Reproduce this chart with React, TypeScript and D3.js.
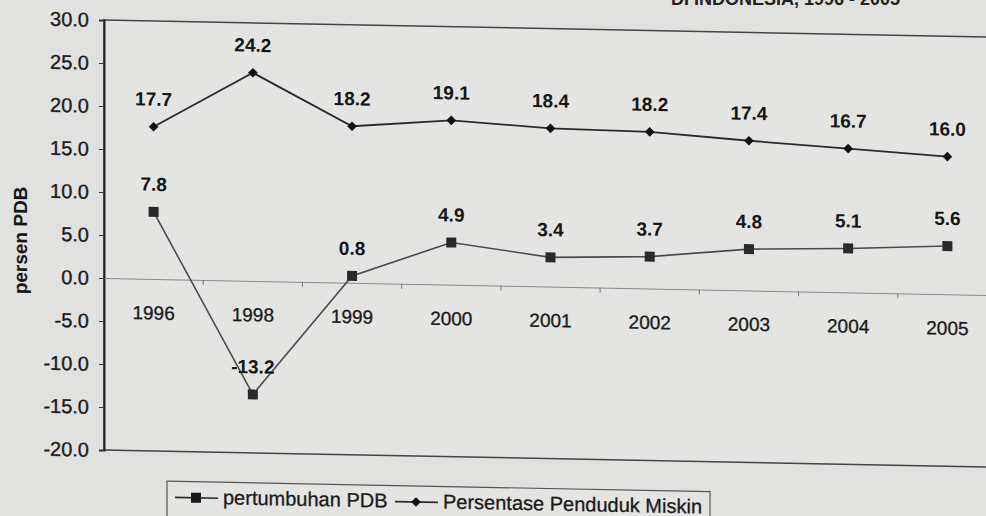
import * as d3 from 'd3';
import React, { useEffect, useRef } from 'react';

const years = ['1996', '1998', '1999', '2000', '2001', '2002', '2003', '2004', '2005'];
const pertumbuhanPDB = [7.8, -13.2, 0.8, 4.9, 3.4, 3.7, 4.8, 5.1, 5.6];
const pendudukMiskin = [17.7, 24.2, 18.2, 19.1, 18.4, 18.2, 17.4, 16.7, 16.0];
const yTicks = [30, 25, 20, 15, 10, 5, 0, -5, -10, -15, -20];
const seriesNames = ['pertumbuhan PDB', 'Persentase Penduduk Miskin'];

function App() {
    const ref = useRef<SVGSVGElement>(null);

    useEffect(() => {
        draw();
    });

    const draw = () => {
        const width = 986;
        const height = 516;
        const left = 104;
        const font = 'Arial, "Liberation Sans", sans-serif';
        const ink = '#1a1a1a';

        const svg = d3.select(ref.current);
        svg.selectAll('*').remove();

        svg.append('rect')
            .attr('width', width)
            .attr('height', height)
            .attr('fill', '#e1e1df');

        // title, mostly cut off at the top of the photo
        svg.append('text')
            .attr('x', 900)
            .attr('y', 5)
            .attr('text-anchor', 'end')
            .attr('font-family', font)
            .attr('font-weight', 'bold')
            .attr('font-size', 18)
            .attr('fill', '#222')
            .text('DI INDONESIA, 1996 - 2005');

        // the page is photographed slightly tilted
        const g = svg.append('g')
            .attr('transform', `translate(${left},0) skewY(1.1) translate(${-left},0)`);

        const x = d3.scaleBand().domain(years).range([left, 997]);
        const cx = (d: string) => (x(d) as number) + x.bandwidth() / 2;
        const y = d3.scaleLinear().domain([-20, 30]).range([450, 20]);
        const fmt = (v: number) => v.toFixed(1);

        // plot frame
        g.append('rect')
            .attr('x', left)
            .attr('y', y(30))
            .attr('width', 997 - left)
            .attr('height', y(-20) - y(30))
            .attr('fill', '#e4e4e2')
            .attr('stroke', '#444')
            .attr('stroke-width', 1.5);

        // y axis
        const yAxis = d3.axisLeft(y)
            .tickValues(yTicks)
            .tickSize(5)
            .tickPadding(10)
            .tickFormat((d) => fmt(+d));
        const ya = g.append('g')
            .attr('transform', `translate(${left},0)`)
            .call(yAxis);
        ya.select('.domain').attr('stroke', '#222').attr('stroke-width', 2);
        ya.selectAll('line').attr('stroke', '#333');
        ya.selectAll('text')
            .attr('font-family', font)
            .attr('font-size', 20)
            .attr('fill', ink)
            .attr('stroke', ink)
            .attr('stroke-width', 0.35);

        // zero line with category ticks and labels
        const xAxis = d3.axisBottom(x).tickSize(0).tickPadding(27);
        const xa = g.append('g')
            .attr('transform', `translate(0,${y(0)})`)
            .call(xAxis);
        xa.select('.domain').attr('stroke', '#8a8a8a').attr('stroke-width', 1);
        xa.selectAll('text')
            .attr('font-family', font)
            .attr('font-size', 19)
            .attr('fill', ink)
            .attr('stroke', ink)
            .attr('stroke-width', 0.3);
        xa.selectAll('line.bound')
            .data(years.slice(1))
            .enter()
            .append('line')
            .attr('class', 'bound')
            .attr('x1', (d) => x(d) as number)
            .attr('x2', (d) => x(d) as number)
            .attr('y1', 0)
            .attr('y2', 5)
            .attr('stroke', '#777');

        const line = d3.line<number>()
            .x((d, i) => cx(years[i]))
            .y((d) => y(d));

        // GDP growth
        g.append('path')
            .datum(pertumbuhanPDB)
            .attr('d', line)
            .attr('fill', 'none')
            .attr('stroke', '#4a4a4a')
            .attr('stroke-width', 1.6);
        g.selectAll('rect.pdb')
            .data(pertumbuhanPDB)
            .enter()
            .append('rect')
            .attr('class', 'pdb')
            .attr('x', (d, i) => cx(years[i]) - 5)
            .attr('y', (d) => y(d) - 5)
            .attr('width', 10)
            .attr('height', 10)
            .attr('fill', '#2a2a2a');

        // poverty
        g.append('path')
            .datum(pendudukMiskin)
            .attr('d', line)
            .attr('fill', 'none')
            .attr('stroke', '#2a2a2a')
            .attr('stroke-width', 1.8);
        g.selectAll('path.miskin')
            .data(pendudukMiskin)
            .enter()
            .append('path')
            .attr('class', 'miskin')
            .attr('d', d3.symbol(d3.symbolDiamond2, 60))
            .attr('transform', (d, i) => `translate(${cx(years[i])},${y(d)})`)
            .attr('fill', '#111');

        // value labels
        const labels = [pertumbuhanPDB, pendudukMiskin];
        labels.forEach((vals, k) => {
            g.selectAll(`text.v${k}`)
                .data(vals)
                .enter()
                .append('text')
                .attr('class', `v${k}`)
                .attr('x', (d, i) => cx(years[i]))
                .attr('y', (d) => y(d) - 21)
                .attr('text-anchor', 'middle')
                .attr('font-family', font)
                .attr('font-weight', 'bold')
                .attr('font-size', 19)
                .attr('fill', '#151515')
                .text((d) => fmt(d));
        });

        // y label
        g.append('text')
            .attr('transform', 'translate(27,242) rotate(-90)')
            .attr('text-anchor', 'middle')
            .attr('font-family', font)
            .attr('font-weight', 'bold')
            .attr('font-size', 19)
            .attr('fill', '#151515')
            .text('persen PDB');

        // legend
        const lg = g.append('g');
        lg.append('rect')
            .attr('x', 167)
            .attr('y', 480)
            .attr('width', 543)
            .attr('height', 60)
            .attr('fill', '#e4e4e2')
            .attr('stroke', '#555')
            .attr('stroke-width', 1.2);
        const items = [
            { x0: 175, tx: 223 },
            { x0: 395, tx: 443 },
        ];
        items.forEach((it, k) => {
            lg.append('line')
                .attr('x1', it.x0)
                .attr('x2', it.x0 + 43)
                .attr('y1', 496)
                .attr('y2', 496)
                .attr('stroke', '#2a2a2a')
                .attr('stroke-width', 1.6);
            if (k === 0) {
                lg.append('rect')
                    .attr('x', it.x0 + 21 - 5)
                    .attr('y', 491)
                    .attr('width', 10)
                    .attr('height', 10)
                    .attr('fill', '#1a1a1a');
            } else {
                lg.append('path')
                    .attr('d', d3.symbol(d3.symbolDiamond2, 60))
                    .attr('transform', `translate(${it.x0 + 21},496)`)
                    .attr('fill', '#111');
            }
            lg.append('text')
                .attr('x', it.tx)
                .attr('y', 502)
                .attr('font-family', font)
                .attr('font-size', 20)
                .attr('fill', ink)
                .attr('stroke', ink)
                .attr('stroke-width', 0.3)
                .text(seriesNames[k]);
        });
    };

    return (
        <svg ref={ref} width={986} height={516} style={{ position: 'absolute', left: 0, top: 0 }} />
    );
}

export default App;
